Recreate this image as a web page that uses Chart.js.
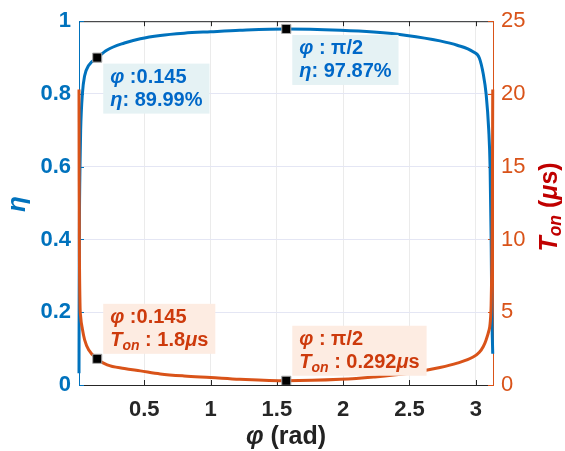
<!DOCTYPE html>
<html>
<head>
<meta charset="utf-8">
<script src="https://cdn.jsdelivr.net/npm/chart.js@4.4.0/dist/chart.umd.min.js"></script>
<style>
    body { margin: 0; background: #fff; }
    #caixa { width: 565px; height: 451px; }
</style>
</head>
<body>
<div id="caixa"><canvas id="grafico"></canvas></div>
<script>

// phi (rad), shared by both curves
var phi = [0.0075, 0.0085, 0.01, 0.015, 0.02, 0.033, 0.05, 0.08, 0.145, 0.22, 0.35, 0.47, 0.62, 0.8, 1.0, 1.22, 1.5708,
    1.98, 2.23, 2.48, 2.73, 2.86, 2.98, 3.027, 3.057, 3.078, 3.098, 3.108, 3.116, 3.121, 3.125, 3.128]
// eficiencia (eixo esquerdo)
var eta = [0.032, 0.2, 0.4, 0.6, 0.7, 0.8, 0.85, 0.878, 0.8999, 0.921, 0.940, 0.952, 0.961, 0.967, 0.971, 0.975, 0.9787,
    0.975, 0.970, 0.961, 0.946, 0.934, 0.916, 0.899, 0.854, 0.80, 0.70, 0.60, 0.40, 0.20, 0.13, 0.086]
// T_on em us (eixo direito)
var ton = [20.3, 14, 10, 5.6, 4.7, 3.85, 3.1, 2.42, 1.8, 1.38, 1.13, 0.97, 0.76, 0.62, 0.52, 0.40, 0.292,
    0.39, 0.55, 0.79, 1.2, 1.5, 1.92, 2.25, 2.65, 3.1, 3.7, 4.2, 5.5, 8, 12, 20.3]

// data tips
var tipPhi = [0.145, 1.5708]
var tipPhiTexto = [':0.145', ': π/2']
var tipEta = [0.8999, 0.9787]
var tipTon = [1.8, 0.292]

// ticks
var xTicks = [0.5, 1, 1.5, 2, 2.5, 3]
var etaTicks = [0, 0.2, 0.4, 0.6, 0.8, 1]
var tonTicks = [0, 5, 10, 15, 20, 25]

var AZUL = '#0072BD'
var LARANJA = '#D95319'
var FAMILIA = '"Liberation Sans", Arial, sans-serif'

Chart.defaults.font.family = FAMILIA

function fonte(estilo, tam) {
    return (estilo.indexOf('i') >= 0 ? 'italic ' : '') + (estilo.indexOf('b') >= 0 ? 'bold ' : '') + tam + 'px ' + FAMILIA
}

function larguraRica(ctx, partes, tam) {
    var w = 0
    partes.forEach(function (p) {
        ctx.font = fonte(p[1], p[1].indexOf('s') >= 0 ? tam * 0.7 : tam)
        w += ctx.measureText(p[0]).width
    })
    return w
}

function textoRico(ctx, partes, x, y, tam) {
    ctx.textBaseline = 'middle'
    ctx.textAlign = 'left'
    partes.forEach(function (p) {
        var sub = p[1].indexOf('s') >= 0
        ctx.font = fonte(p[1], sub ? tam * 0.7 : tam)
        ctx.fillText(p[0], x, sub ? y + tam * 0.25 : y)
        x += ctx.measureText(p[0]).width
    })
}

function pontos(ys) {
    return phi.map(function (p, i) { return { x: p, y: ys[i] } })
}

function pontosDica(ys) {
    return tipPhi.map(function (p, i) { return { x: p, y: ys[i] } })
}

var dicas = [
    { eixo: 'yL', valores: tipEta, cor: '#0068C8', fundo: '#e5f2f4', acima: false,
      linha2: function (i) { return [['η', 'bi'], [': ' + (tipEta[i] * 100).toFixed(2) + '%', 'b']] } },
    { eixo: 'yR', valores: tipTon, cor: '#CD3A0C', fundo: '#fdece2', acima: true,
      linha2: function (i) { return [['T', 'bi'], ['on', 'bis'], [' : ' + tipTon[i], 'b'], ['μ', 'bi'], ['s', 'b']] } }
]

var moldura = {
    id: 'moldura',
    beforeDatasetsDraw: function (chart) {
        var ctx = chart.ctx, a = chart.chartArea, s = chart.scales
        ctx.save()
        ctx.lineWidth = 1
        ctx.strokeStyle = '#262626'
        ctx.beginPath()
        ctx.moveTo(a.left, a.top + 0.5)
        ctx.lineTo(a.right, a.top + 0.5)
        xTicks.forEach(function (v) {
            var px = Math.round(s.x.getPixelForValue(v)) + 0.5
            ctx.moveTo(px, a.bottom)
            ctx.lineTo(px, a.bottom - 5)
            ctx.moveTo(px, a.top)
            ctx.lineTo(px, a.top + 5)
        })
        ctx.stroke()
        ctx.strokeStyle = AZUL
        ctx.beginPath()
        etaTicks.forEach(function (v) {
            var py = Math.round(s.yL.getPixelForValue(v)) + 0.5
            ctx.moveTo(a.left, py)
            ctx.lineTo(a.left + 5, py)
        })
        ctx.stroke()
        ctx.strokeStyle = LARANJA
        ctx.beginPath()
        tonTicks.forEach(function (v) {
            var py = Math.round(s.yR.getPixelForValue(v)) + 0.5
            ctx.moveTo(a.right, py)
            ctx.lineTo(a.right - 5, py)
        })
        ctx.stroke()
        ctx.restore()
    },
    afterDatasetsDraw: function (chart) {
        var ctx = chart.ctx, s = chart.scales
        ctx.save()
        dicas.forEach(function (d) {
            tipPhi.forEach(function (p, i) {
                var px = s.x.getPixelForValue(p)
                var py = s[d.eixo].getPixelForValue(d.valores[i])
                var l1 = [['φ', 'bi'], [' ' + tipPhiTexto[i], 'b']]
                var l2 = d.linha2(i)
                var w = Math.max(larguraRica(ctx, l1, 20), larguraRica(ctx, l2, 20)) + 14
                var h = 50
                var bx = px + 6
                var by = d.acima ? py - 5 - h : py + 6
                ctx.fillStyle = d.fundo
                ctx.fillRect(bx, by, w, h)
                ctx.fillStyle = d.cor
                textoRico(ctx, l1, bx + 7, by + 14, 20)
                textoRico(ctx, l2, bx + 7, by + 37, 20)
            })
        })
        ctx.restore()
    },
    afterDraw: function (chart) {
        var ctx = chart.ctx, a = chart.chartArea
        ctx.save()
        // titulo x
        ctx.fillStyle = '#222'
        var tx = [['φ', 'bi'], [' (rad)', 'b']]
        textoRico(ctx, tx, (a.left + a.right) / 2 - larguraRica(ctx, tx, 25) / 2, 437, 25)
        // titulo esquerdo
        var te = [['η', 'bi']]
        ctx.save()
        ctx.translate(18, 204)
        ctx.rotate(-Math.PI / 2)
        ctx.fillStyle = AZUL
        textoRico(ctx, te, -larguraRica(ctx, te, 26) / 2, 0, 26)
        ctx.restore()
        // titulo direito
        var td = [['T', 'bi'], ['on', 'bis'], [' (', 'b'], ['μ', 'bi'], ['s)', 'b']]
        ctx.save()
        ctx.translate(550, 207)
        ctx.rotate(-Math.PI / 2)
        ctx.fillStyle = '#C00000'
        textoRico(ctx, td, -larguraRica(ctx, td, 25) / 2, 0, 25)
        ctx.restore()
        ctx.restore()
    }
}

var ctx = document.getElementById('grafico').getContext('2d')
var meuGrafico = new Chart(ctx, {
    type: 'line',
    data: {
        datasets: [{
            label: 'tip eta',
            data: pontosDica(tipEta),
            yAxisID: 'yL',
            showLine: false,
            pointStyle: 'rect',
            pointRadius: 6.4,
            pointBackgroundColor: '#000',
            pointBorderColor: '#a8a8a8',
            pointBorderWidth: 1
        }, {
            label: 'tip ton',
            data: pontosDica(tipTon),
            yAxisID: 'yR',
            showLine: false,
            pointStyle: 'rect',
            pointRadius: 6.4,
            pointBackgroundColor: '#000',
            pointBorderColor: '#a8a8a8',
            pointBorderWidth: 1
        }, {
            label: 'Ton',
            data: pontos(ton),
            yAxisID: 'yR',
            borderColor: LARANJA,
            borderWidth: 3,
            pointRadius: 0,
            cubicInterpolationMode: 'monotone',
            clip: false
        }, {
            label: 'eta',
            data: pontos(eta),
            yAxisID: 'yL',
            borderColor: AZUL,
            borderWidth: 3,
            pointRadius: 0,
            cubicInterpolationMode: 'monotone',
            clip: false
        }]
    },
    options: {
        responsive: true,
        maintainAspectRatio: false,
        animation: false,
        layout: { padding: { top: 16 } },
        plugins: { legend: { display: false }, tooltip: { enabled: false } },
        scales: {
            x: {
                type: 'linear',
                position: 'bottom',
                min: 0.0075,
                max: 3.13,
                afterBuildTicks: function (s) { s.ticks = xTicks.map(function (v) { return { value: v } }) },
                afterFit: function (s) { s.height = 66 },
                grid: { color: '#ebebeb', drawTicks: false },
                border: { color: '#262626' },
                ticks: { color: '#262626', padding: 12, maxRotation: 0, font: { size: 22, weight: 'bold' },
                    callback: function (v) { return String(v) } }
            },
            yL: {
                type: 'linear',
                position: 'left',
                min: 0,
                max: 1,
                afterBuildTicks: function (s) { s.ticks = etaTicks.map(function (v) { return { value: v } }) },
                afterFit: function (s) { s.width = 79 },
                grid: { color: '#e4e6f4', drawTicks: false },
                border: { color: AZUL },
                ticks: { color: AZUL, padding: 8, font: { size: 22, weight: 'bold' },
                    callback: function (v) { return String(v) } }
            },
            yR: {
                type: 'linear',
                position: 'right',
                min: 0,
                max: 25,
                afterBuildTicks: function (s) { s.ticks = tonTicks.map(function (v) { return { value: v } }) },
                afterFit: function (s) { s.width = 72 },
                grid: { display: false, drawTicks: false },
                border: { color: LARANJA },
                ticks: { color: LARANJA, padding: 8, font: { size: 22 },
                    callback: function (v) { return String(v) } }
            }
        }
    },
    plugins: [moldura]
});

</script>
</body>
</html>
